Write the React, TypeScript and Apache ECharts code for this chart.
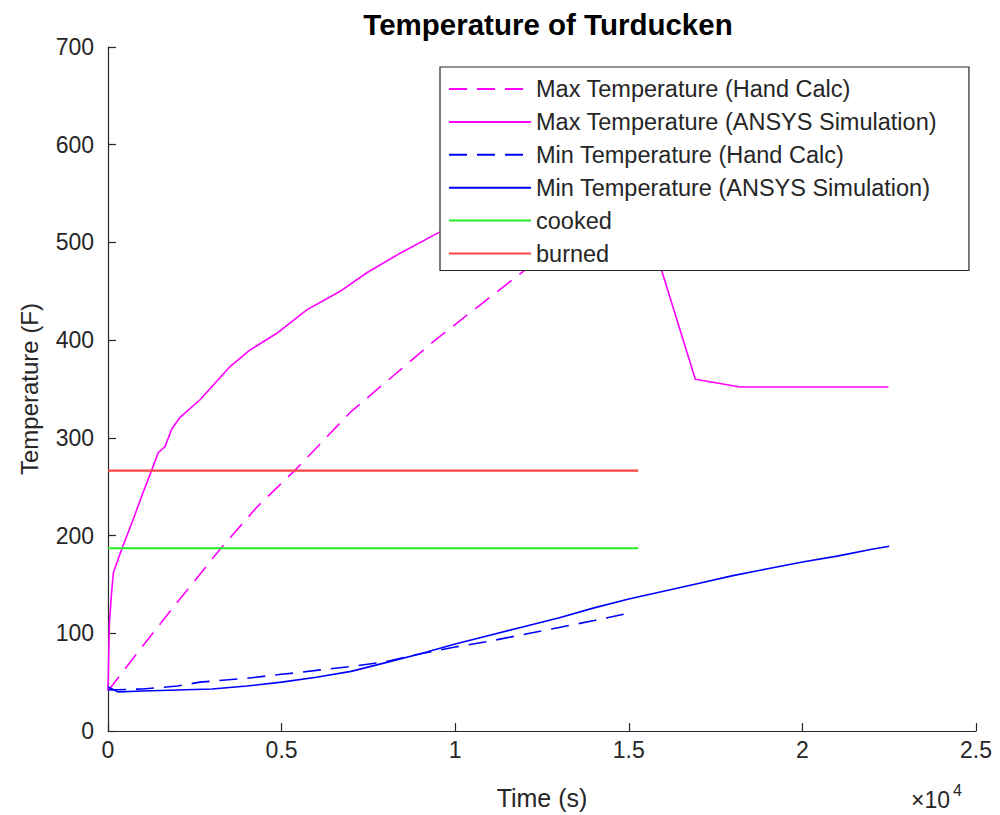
import React, { useEffect, useRef } from "react";
import * as echarts from "echarts";

const maxHandT = [0, 1000, 2000, 3228, 4285, 5389, 6974, 8000, 9424, 10500, 12017, 13500, 15270];
const maxHandY = [41, 87, 132, 186, 229, 267, 326, 357, 400, 430, 472, 510, 550];

const maxSimT = [0, 40, 100, 154, 394, 730, 1000, 1259, 1450, 1643, 1836, 2075, 2651, 3516, 4092, 4861, 5726, 6686, 7455, 8415, 9520, 11000, 12500, 14000, 15270, 16916, 18213, 22478];
const maxSimY = [42, 110, 140, 162, 186, 217, 243, 267, 285, 291, 309, 321, 339, 373, 390, 407, 431, 450, 469, 489, 510, 527, 538, 545, 549, 360, 352, 352];

const minHandT = [0, 1000, 2000, 2651, 4000, 5000, 5533, 6000, 7000, 8000, 9000, 10000, 11000, 12000, 13000, 14000, 15040];
const minHandY = [42, 43, 46, 50, 54, 58, 60, 62, 66, 71, 79, 86, 92, 99, 106, 113, 121];

const minSimT = [0, 300, 1000, 2000, 3000, 4000, 5000, 6000, 7000, 8000, 9000, 10000, 11000, 12000, 13000, 14000, 15000, 16000, 17000, 18000, 19000, 20000, 21000, 22000, 22500];
const minSimY = [45, 40, 41, 42, 43, 46, 50, 55, 61, 70, 79, 89, 98, 107, 116, 126, 135, 143, 151, 159, 166, 173, 179, 186, 189];

const cookedT = [0, 15274];
const cookedY = [187, 187];
const burnedT = [0, 15274];
const burnedY = [266.5, 266.5];

const xTicks = [0, 5000, 10000, 15000, 20000, 25000];
const yTicks = [0, 100, 200, 300, 400, 500, 600, 700];

const seriesNames = [
  "Max Temperature (Hand Calc)",
  "Max Temperature (ANSYS Simulation)",
  "Min Temperature (Hand Calc)",
  "Min Temperature (ANSYS Simulation)",
  "cooked",
  "burned",
];

const zip = (t: number[], y: number[]) => t.map((v, i) => [v, y[i]]);

const FONT = "Liberation Sans, Arial, Helvetica, sans-serif";
const AX = "#262626";

export default function App() {
  const ref = useRef<HTMLDivElement>(null);
  useEffect(() => {
    if (!ref.current) return;
    const chart = echarts.init(ref.current, undefined, { renderer: "svg" });
    const mk = (name: string, data: number[][], color: string, width: number, dashed: boolean) => ({
      name,
      type: "line",
      data,
      symbol: "none",
      showSymbol: false,
      smooth: false,
      lineStyle: { color, width, type: dashed ? [18, 10] : "solid" },
      itemStyle: { color },
      emphasis: { disabled: true },
    });
    chart.setOption({
      animation: false,
      textStyle: { fontFamily: FONT },
      title: {
        text: "Temperature of Turducken",
        left: 543,
        top: 4,
        textAlign: "center",
        textStyle: { fontFamily: FONT, fontSize: 29.5, fontWeight: "bold", color: "#000" },
      },
      grid: { left: 108, right: 24, top: 47, bottom: 83, containLabel: false },
      xAxis: {
        type: "value",
        min: xTicks[0],
        max: xTicks[xTicks.length - 1],
        interval: xTicks[1] - xTicks[0],
        name: "Time (s)",
        nameLocation: "middle",
        nameGap: 54,
        nameTextStyle: { fontFamily: FONT, fontSize: 25, color: AX },
        axisLine: { show: true, onZero: false, lineStyle: { color: AX, width: 1.2 } },
        axisTick: { show: true, inside: true, length: 8, lineStyle: { color: AX, width: 1.2 } },
        axisLabel: {
          fontFamily: FONT,
          fontSize: 23,
          color: AX,
          margin: 7,
          formatter: (v: number) => String(v / 10000),
        },
        splitLine: { show: false },
      },
      yAxis: {
        type: "value",
        min: yTicks[0],
        max: yTicks[yTicks.length - 1],
        interval: yTicks[1] - yTicks[0],
        name: "Temperature (F)",
        nameLocation: "middle",
        nameGap: 67,
        nameRotate: 90,
        nameTextStyle: { fontFamily: FONT, fontSize: 24, color: AX },
        axisLine: { show: true, onZero: false, lineStyle: { color: AX, width: 1.2 } },
        axisTick: { show: true, inside: true, length: 8, lineStyle: { color: AX, width: 1.2 } },
        axisLabel: { fontFamily: FONT, fontSize: 23, color: AX, margin: 14 },
        splitLine: { show: false },
      },
      legend: {
        data: seriesNames,
        orient: "vertical",
        left: 440,
        top: 67,
        itemWidth: 82,
        itemHeight: 20,
        itemGap: 8.9,
        padding: [10, 32, 5, 8],
        backgroundColor: "#fff",
        borderColor: AX,
        borderWidth: 1.2,
        borderRadius: 0,
        selectedMode: false,
        itemStyle: { opacity: 0, borderWidth: 0 },
        textStyle: { fontFamily: FONT, fontSize: 23.5, color: AX },
      },
      graphic: [
        {
          type: "text",
          x: 911,
          y: 800,
          style: { text: "×10", fontFamily: FONT, fontSize: 23, fill: AX, verticalAlign: "middle", align: "left" },
        },
        {
          type: "text",
          x: 953,
          y: 790,
          style: { text: "4", fontFamily: FONT, fontSize: 16, fill: AX, verticalAlign: "middle", align: "left" },
        },
      ],
      series: [
        mk(seriesNames[0], zip(maxHandT, maxHandY), "#ff00ff", 1.6, true),
        mk(seriesNames[1], zip(maxSimT, maxSimY), "#ff00ff", 1.6, false),
        mk(seriesNames[2], zip(minHandT, minHandY), "#0000ff", 1.6, true),
        mk(seriesNames[3], zip(minSimT, minSimY), "#0000ff", 1.6, false),
        mk(seriesNames[4], zip(cookedT, cookedY), "#22ee22", 2.2, false),
        mk(seriesNames[5], zip(burnedT, burnedY), "#ff4444", 2.4, false),
      ],
    });
    return () => chart.dispose();
  }, []);
  return (
    <div
      ref={ref}
      style={{ position: "fixed", left: 0, top: 0, width: 1000, height: 815, background: "#fff" }}
    />
  );
}
